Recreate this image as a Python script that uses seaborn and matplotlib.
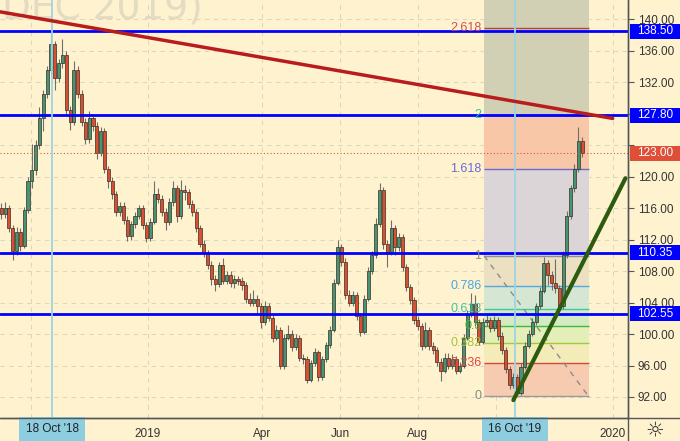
import numpy as np
import pandas as pd
import seaborn as sns
import matplotlib.pyplot as plt
from matplotlib.patches import Rectangle
from matplotlib.lines import Line2D

# candles, one every 3 calendar days
closes = [
    115.2, 116.0, 113.5, 110.5, 113.0, 111.2, 115.8, 119.5, 120.8, 124.0,
    127.5, 130.5, 133.5, 136.8, 132.5, 134.5, 135.5, 128.5, 127.0, 133.5,
    130.5, 127.0, 124.8, 127.5, 126.5, 123.0, 125.8, 121.0, 119.5, 117.8,
    115.5, 116.3, 114.5, 112.5, 114.0, 115.0, 116.0, 113.8, 112.2, 114.3,
    117.8, 117.2, 115.5, 114.3, 116.8, 118.5, 115.0, 118.3, 118.0, 116.5,
    115.5, 113.5, 111.5, 110.3, 108.8, 107.0, 106.3, 108.8, 106.8, 107.5,
    106.5, 107.0, 106.8, 106.2, 104.5, 104.0, 104.5, 103.5, 101.5, 103.5,
    102.0, 99.5, 100.5, 96.0, 99.5, 100.0, 98.3, 99.5, 97.0, 96.8,
    94.2, 96.3, 97.7, 94.5, 96.8, 98.6, 100.5, 106.5, 111.0, 109.2,
    105.0, 104.0, 105.0, 102.3, 100.2, 104.5, 108.0, 110.0, 114.0, 118.3,
    111.5, 110.3, 113.5, 111.0, 112.3, 108.5, 106.0, 104.3, 101.8, 101.0,
    98.5, 100.5, 98.5, 98.0, 96.5, 95.3, 97.0, 96.0, 96.8, 95.3,
    96.0, 99.5, 102.5, 103.8, 101.5, 99.0, 101.5, 101.8, 100.8, 101.8,
    99.8, 98.0, 95.5, 93.5, 94.5, 92.5, 95.8, 98.5, 100.0, 101.5,
    103.5, 105.5, 109.0, 107.5, 106.5, 105.8, 103.5, 110.0, 115.0, 118.5,
    121.0, 124.5, 123.0]
highs = [
    116.6, 116.8, 116.4, 113.9, 113.6, 113.5, 116.2, 120.0, 124.2, 124.6,
    128.8, 131.0, 134.0, 138.6, 137.2, 135.0, 137.5, 136.0, 129.0, 134.7,
    134.0, 131.0, 127.5, 128.3, 128.0, 127.0, 126.3, 126.2, 121.4, 120.0,
    118.2, 116.8, 116.8, 115.0, 114.4, 115.5, 116.4, 116.4, 114.2, 114.8,
    119.5, 118.6, 117.7, 116.0, 117.3, 119.4, 118.9, 119.6, 119.0, 118.4,
    117.0, 115.9, 113.9, 111.9, 110.7, 109.3, 107.5, 109.2, 109.7, 108.0,
    108.0, 107.5, 107.4, 107.2, 106.6, 105.2, 105.6, 105.0, 104.0, 104.2,
    104.0, 102.4, 101.2, 100.9, 100.0, 101.2, 100.5, 100.0, 99.9, 97.5,
    97.2, 96.7, 98.2, 98.0, 97.2, 99.0, 101.0, 107.0, 112.0, 111.5,
    109.6, 105.6, 105.5, 105.3, 102.7, 105.0, 108.5, 110.6, 114.7, 119.2,
    118.7, 112.0, 114.5, 113.9, 112.8, 112.7, 108.9, 106.4, 104.7, 102.3,
    101.4, 101.5, 100.9, 99.0, 98.4, 96.9, 97.6, 97.6, 97.4, 97.2,
    96.5, 100.0, 103.0, 105.2, 105.0, 101.9, 102.0, 102.4, 102.2, 102.3,
    102.2, 100.2, 98.4, 95.9, 95.0, 94.9, 96.3, 99.0, 100.5, 102.0,
    104.0, 106.0, 109.8, 109.4, 108.0, 109.5, 106.2, 110.5, 115.6, 119.0,
    121.6, 126.3, 125.0]
lows = [
    114.6, 114.8, 113.0, 109.4, 110.1, 110.6, 110.9, 115.4, 118.5, 120.2,
    123.5, 125.8, 130.0, 133.0, 131.0, 132.0, 133.8, 128.0, 125.9, 126.6,
    130.0, 126.5, 124.2, 124.3, 125.8, 122.3, 122.6, 120.5, 118.6, 117.2,
    115.0, 115.0, 114.0, 111.8, 112.0, 113.5, 114.6, 113.3, 111.7, 111.8,
    114.0, 116.6, 115.0, 113.2, 113.9, 116.3, 114.2, 114.6, 117.0, 116.0,
    115.0, 113.0, 111.0, 109.8, 108.3, 106.2, 105.5, 106.0, 106.3, 106.3,
    106.0, 105.8, 106.2, 105.6, 104.0, 103.5, 103.6, 102.5, 100.8, 101.2,
    101.6, 99.0, 99.2, 95.6, 95.6, 99.2, 97.8, 98.0, 96.6, 96.2,
    93.8, 93.9, 95.9, 94.0, 94.2, 96.4, 98.2, 100.2, 106.2, 108.6,
    104.5, 103.5, 103.5, 101.8, 99.8, 100.0, 104.2, 107.6, 109.6, 113.6,
    110.8, 108.5, 110.0, 110.0, 110.5, 108.0, 105.5, 103.8, 101.3, 100.5,
    98.0, 98.2, 98.0, 97.5, 96.0, 94.0, 95.0, 95.6, 95.6, 94.9,
    95.0, 95.7, 99.2, 102.2, 101.0, 98.6, 98.7, 101.0, 100.3, 100.4,
    99.3, 97.5, 95.0, 93.0, 93.2, 92.1, 92.3, 95.5, 98.2, 99.7,
    101.2, 103.2, 105.2, 106.2, 105.6, 105.2, 103.0, 103.2, 109.6, 114.6,
    118.0, 120.6, 122.5]
first_open = 116.0
dates = pd.date_range('2018-09-08', periods=len(closes), freq='3D')

levels = [138.50, 127.80, 110.35, 102.55]
last_price = 123.00

fib_low, fib_high = 92.1, 109.95
fib_start, fib_end = pd.Timestamp('2019-09-22'), pd.Timestamp('2019-12-13')
fib_ratios = [0, 0.236, 0.382, 0.5, 0.618, 0.786, 1, 1.618, 2, 2.618, 3.618]
fib_labels = ['0', '0.236', '0.382', '0.5', '0.618', '0.786', '1', '1.618', '2', '2.618']
fib_line_colors = ['#9a9a9a', '#d9473b', '#a2c93a', '#3cb83c', '#3ec9a2', '#55a9dc',
                   '#8f8f8f', '#6b6bd2', '#2fc4a0', '#b24545']
fib_text_colors = ['#8a8a8a', '#e04545', '#a5c43a', '#3cb43c', '#3cc8a0', '#4ea6dc',
                   '#8a8a8a', '#6a6ad8', '#2fc4a0', '#d05050']
fib_fill_colors = ['#f6cbb0', '#f3ecb9', '#e3eeb9', '#d3eac2', '#d5e7d2', '#ece0c2',
                   '#dcd5d8', '#f7c7a8', '#d1d0b4', '#d1d0b4']

red_trend_x = ['2018-09-07', '2020-01-01']
red_trend_y = [140.95, 127.4]
green_trend_x = ['2019-10-15', '2020-01-11']
green_trend_y = [91.6, 119.8]

marked_days = ['2018-10-18', '2019-10-16']
marked_labels = ["18 Oct '18", "16 Oct '19"]
xticks = ['2018-10-01', '2019-01-01', '2019-04-01', '2019-06-01', '2019-08-01', '2019-10-01', '2020-01-01']
xtick_labels = ['', '2019', 'Apr', 'Jun', 'Aug', '', '2020']
yticks = list(range(92, 141, 4))
hidden_yticks = [124, 128]   # covered by the price tags

bg = '#fff3cf'
sns.set_theme(style='white', rc={'axes.facecolor': bg, 'figure.facecolor': bg})
plt.rcParams['font.family'] = ['Liberation Sans', 'DejaVu Sans']

fig = plt.figure(figsize=(6.8, 4.41), dpi=100)
ax = fig.add_axes([0, 23 / 441, 628 / 680, 418 / 441])
ax.set_xlim(pd.Timestamp('2018-09-07'), pd.Timestamp('2020-01-13'))
ax.set_ylim(89.33, 142.45)

# fibonacci box
for k in range(len(fib_ratios) - 1):
    y0 = fib_low + fib_ratios[k] * (fib_high - fib_low)
    y1 = fib_low + fib_ratios[k + 1] * (fib_high - fib_low)
    ax.fill_between([fib_start, fib_end], y0, y1, color=fib_fill_colors[k], lw=0, zorder=0.6)
for k, r in enumerate(fib_ratios[:-1]):
    y = fib_low + r * (fib_high - fib_low)
    ax.hlines(y, fib_start, fib_end, color=fib_line_colors[k], lw=1, zorder=0.8)
    ax.text(fib_start - pd.Timedelta(days=2), y, fib_labels[k], ha='right', va='center',
            color=fib_text_colors[k], fontsize=9, zorder=4)
ax.plot([fib_start, fib_end], [fib_high, fib_low], color='#8c8c8c', lw=1,
        ls=(0, (4, 4)), zorder=0.9)

# watermark
ax.text(203 / 628, 1 - 18 / 418, 'DEC 2019)', transform=ax.transAxes, ha='right',
        va='baseline', fontsize=27, color='#e3dbc2', clip_on=True, zorder=0.3,
        family='DejaVu Sans')

# candles
opens = [first_open] + closes[:-1]
up = [c >= o for o, c in zip(opens, closes)]
body_lo = [min(o, c) for o, c in zip(opens, closes)]
body_h = [max(abs(c - o), 0.15) for o, c in zip(opens, closes)]
ax.vlines(dates, lows, highs, color='#6e6e6e', lw=0.8, zorder=1.5)
ax.bar(dates, body_h, bottom=body_lo, width=2.4,
       color=['#459573' if u else '#d8502f' for u in up],
       edgecolor='#3a2c26', linewidth=0.5, zorder=2)

# horizontal levels and price line
for lv in levels:
    ax.axhline(lv, color='#0000ff', lw=2, zorder=3)
ax.axhline(last_price, color='#d9533d', lw=0.8, ls=(0, (1, 2)), zorder=2.5)

for d in marked_days:
    ax.axvline(pd.Timestamp(d), color='#9dd4e4', lw=1.3, zorder=3.2)

sns.lineplot(x=pd.to_datetime(red_trend_x), y=red_trend_y, ax=ax, color='#b81c1c', lw=2.5, zorder=4)
sns.lineplot(x=pd.to_datetime(green_trend_x), y=green_trend_y, ax=ax, color='#2c5a0e', lw=3, zorder=4)

# axes styling
ax.set_xticks(pd.to_datetime(xticks))
ax.set_xticklabels(xtick_labels)
ax.set_yticks(yticks)
ax.set_yticklabels(['' if v in hidden_yticks else f'{v:.2f}' for v in yticks])
ax.yaxis.tick_right()
ax.tick_params(axis='y', direction='out', length=4, width=0.8, color='#555555',
               labelsize=8.5, labelcolor='#333333', pad=3)
ax.tick_params(axis='x', direction='out', length=4, width=0.8, color='#555555',
               labelsize=8.5, labelcolor='#333333', pad=3)
ax.grid(True, color='#dcd6c1', lw=0.8, ls=(0, (4, 4)))
ax.set_axisbelow(True)
ax.set_xlabel('')
ax.set_ylabel('')
for s in ['top', 'left']:
    ax.spines[s].set_visible(False)
for s in ['right', 'bottom']:
    ax.spines[s].set_color('#555555')
    ax.spines[s].set_linewidth(1)

fig.add_artist(Line2D([0, 1], [23 / 441, 23 / 441], color='#555555', lw=1))
fig.add_artist(Line2D([628 / 680, 628 / 680], [0, 1], color='#555555', lw=1))

# price axis tags
ytr = ax.get_yaxis_transform()
for lv in levels:
    ax.add_patch(Rectangle((1.003, lv - 0.95), 0.08, 1.9, transform=ytr, clip_on=False,
                           facecolor='#0000ff', edgecolor='none', zorder=6))
    ax.text(1.043, lv, f'{lv:.2f}', transform=ytr, ha='center', va='center',
            color='white', fontsize=8.5, clip_on=False, zorder=7)
ax.add_patch(Rectangle((1.003, last_price - 0.95), 0.08, 1.9, transform=ytr, clip_on=False,
                       facecolor='#df4f38', edgecolor='none', zorder=6))
ax.text(1.043, last_price, f'{last_price:.2f}', transform=ytr, ha='center', va='center',
        color='white', fontsize=8.5, clip_on=False, zorder=7)

# highlighted dates on the time axis
xtr = ax.get_xaxis_transform()
for d, lab in zip(marked_days, marked_labels):
    ax.text(pd.Timestamp(d), -0.027, lab, transform=xtr, ha='center', va='center',
            fontsize=8.5, color='#222222', clip_on=False, zorder=7,
            bbox=dict(boxstyle='square,pad=0.55', facecolor='#8ccde0', edgecolor='none'))

fig.text(655 / 680, 11 / 441, '\u263c', ha='center', va='center', fontsize=15,
         color='#333333', family='DejaVu Sans')

fig.savefig('out.png', dpi=100, facecolor=bg)
